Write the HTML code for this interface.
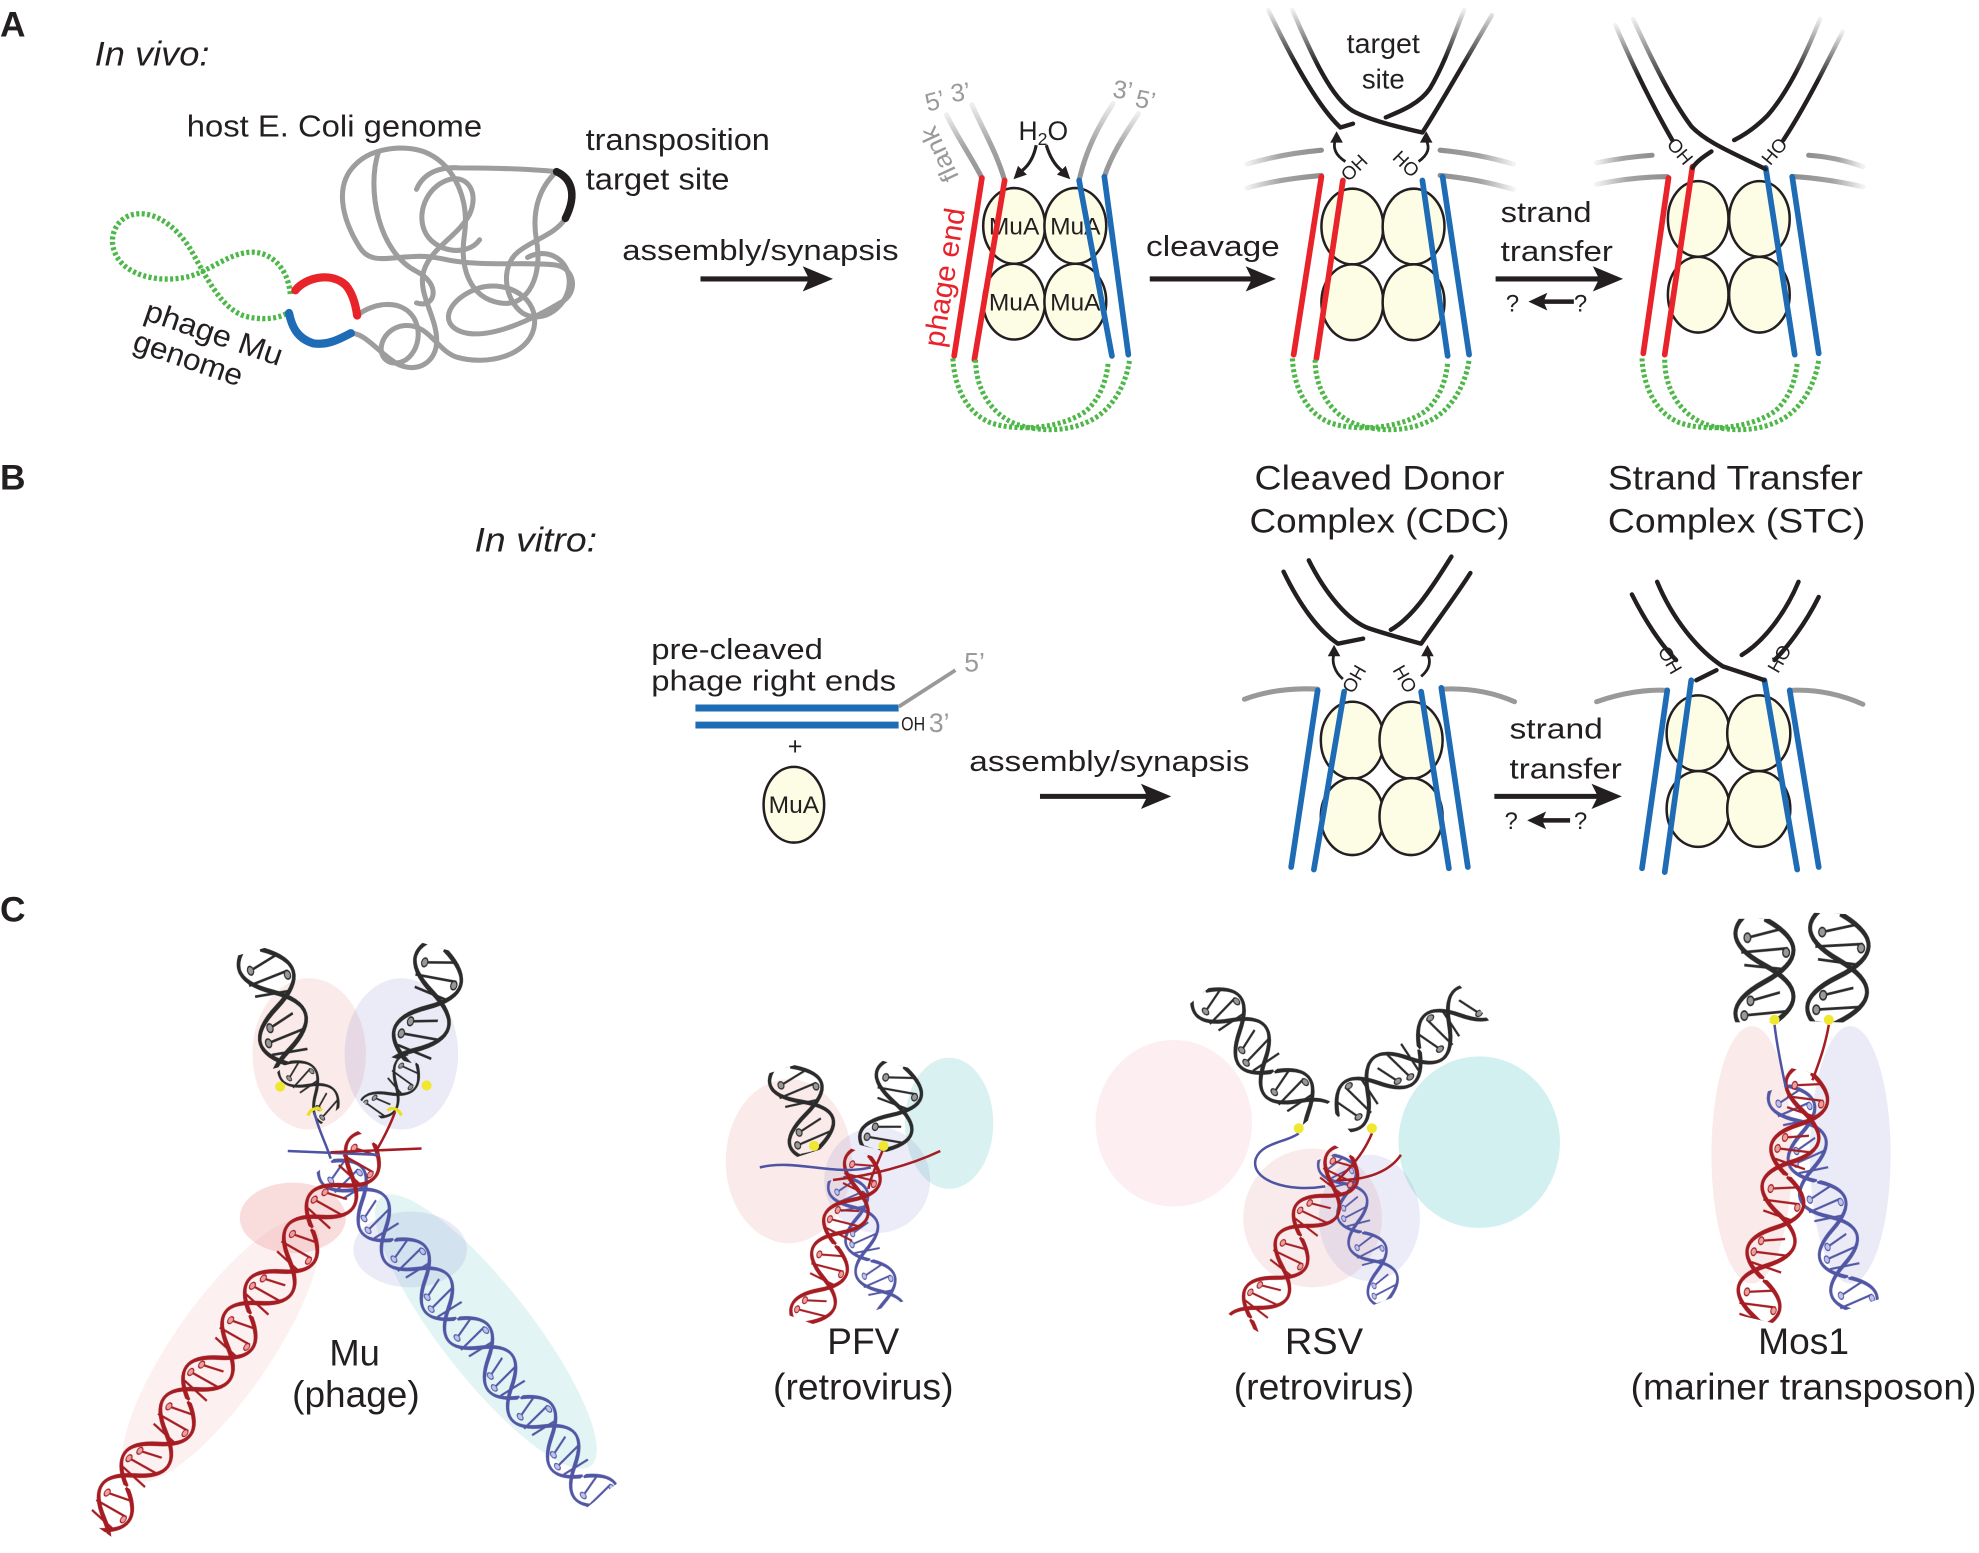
<!DOCTYPE html>
<html><head><meta charset="utf-8"><style>
html,body{margin:0;padding:0;background:#fff;}
svg{display:block;}
text{font-family:"Liberation Sans",Arial,sans-serif;fill:#231f20;}
</style></head><body>
<svg xmlns="http://www.w3.org/2000/svg" xmlns:xlink="http://www.w3.org/1999/xlink" width="1979" height="1553" viewBox="0 0 1568 1230.5" preserveAspectRatio="none">
<defs>
<linearGradient id="fadeK" x1="0" y1="0" x2="0" y2="1">
 <stop offset="0" stop-color="#f0f0f0"/><stop offset="0.22" stop-color="#8a8a8a"/><stop offset="0.45" stop-color="#231f20"/><stop offset="1" stop-color="#231f20"/>
</linearGradient>
<linearGradient id="fadeG" x1="0" y1="0" x2="0" y2="1">
 <stop offset="0" stop-color="#eeeeee"/><stop offset="0.5" stop-color="#a5a5a5"/><stop offset="1" stop-color="#939393"/>
</linearGradient>
<linearGradient id="fadeL" x1="0" y1="0" x2="1" y2="0">
 <stop offset="0" stop-color="#f2f2f2"/><stop offset="0.45" stop-color="#a3a3a3"/><stop offset="1" stop-color="#8f8f8f"/>
</linearGradient>
<linearGradient id="fadeR" x1="1" y1="0" x2="0" y2="0">
 <stop offset="0" stop-color="#f2f2f2"/><stop offset="0.45" stop-color="#a3a3a3"/><stop offset="1" stop-color="#8f8f8f"/>
</linearGradient>

<pattern id="hR" patternUnits="userSpaceOnUse" x="0" y="-22" width="60" height="44">
 <g fill="none" stroke="#a51d22">
  <path stroke-width="1.3" d="M5 12 L9 33 M14 7 L16 37 M24 9 L22 35 M35 12 L39 31 M44 8 L46 36 M54 9 L52 35"/>
  <path stroke-width="2.8" d="M0 22 C10 -3 20 -3 30 22 C40 47 50 47 60 22"/>
  <path stroke-width="2.8" d="M-38 22 C-28 -3 -18 -3 -8 22 C2 47 12 47 22 22 C32 -3 42 -3 52 22 C62 47 72 47 82 22"/>
 </g>
 <g fill="#eaa0a0" stroke="#a51d22" stroke-width="0.8"><circle cx="9" cy="33" r="2.2"/><circle cx="16" cy="8" r="2.2"/><circle cx="39" cy="31" r="2.2"/><circle cx="46" cy="35" r="2.2"/></g>
</pattern>
<pattern id="hB" patternUnits="userSpaceOnUse" x="0" y="-22" width="60" height="44">
 <g fill="none" stroke="#5257a5">
  <path stroke-width="1.3" d="M5 12 L9 33 M14 7 L16 37 M24 9 L22 35 M35 12 L39 31 M44 8 L46 36 M54 9 L52 35"/>
  <path stroke-width="2.6" d="M0 22 C10 -3 20 -3 30 22 C40 47 50 47 60 22"/>
  <path stroke-width="2.6" d="M-38 22 C-28 -3 -18 -3 -8 22 C2 47 12 47 22 22 C32 -3 42 -3 52 22 C62 47 72 47 82 22"/>
 </g>
 <g fill="#c0c2ec" stroke="#5257a5" stroke-width="0.8"><circle cx="9" cy="33" r="2.2"/><circle cx="16" cy="8" r="2.2"/><circle cx="39" cy="31" r="2.2"/><circle cx="46" cy="35" r="2.2"/></g>
</pattern>
<pattern id="hK" patternUnits="userSpaceOnUse" x="0" y="-22" width="60" height="44">
 <g fill="none" stroke="#2b2b2b">
  <path stroke-width="1.3" d="M5 12 L9 33 M14 7 L16 37 M24 9 L22 35 M35 12 L39 31 M44 8 L46 36 M54 9 L52 35"/>
  <path stroke-width="2.6" d="M0 22 C10 -3 20 -3 30 22 C40 47 50 47 60 22"/>
  <path stroke-width="2.6" d="M-38 22 C-28 -3 -18 -3 -8 22 C2 47 12 47 22 22 C32 -3 42 -3 52 22 C62 47 72 47 82 22"/>
 </g>
 <g fill="#999" stroke="#2b2b2b" stroke-width="0.8"><circle cx="9" cy="33" r="2.2"/><circle cx="16" cy="8" r="2.2"/><circle cx="39" cy="31" r="2.2"/><circle cx="46" cy="35" r="2.2"/></g>
</pattern>

<g id="gU" fill="none" stroke="#4db848" stroke-width="4" stroke-dasharray="2.4 1.9">
 <path d="M755 284 C756 305 765 327 785 335 C805 342 840 340 860 326 C872 316 877 300 878 287"/>
 <path d="M773 285 C773 308 785 328 805 336 C825 343 850 342 868 331 C885 320 893 300 895 285"/>
</g>
</defs>

<!-- ================= PANEL A ================= -->
<text x="0" y="29" font-size="28" font-weight="bold">A</text>
<text x="75" y="52" font-size="27" font-style="italic" textLength="91" lengthAdjust="spacingAndGlyphs">In vivo:</text>

<text x="148" y="108" font-size="24" textLength="234" lengthAdjust="spacingAndGlyphs">host E. Coli genome</text>
<text x="464" y="119" font-size="24" textLength="146" lengthAdjust="spacingAndGlyphs">transposition</text>
<text x="464" y="150" font-size="24" textLength="114" lengthAdjust="spacingAndGlyphs">target site</text>

<!-- tangle -->
<g fill="none" stroke="#9d9d9d" stroke-width="4" stroke-linecap="round" stroke-linejoin="round">
<path d="M283 250 C295 240 318 236 328 252 C338 270 324 292 309 287 C296 282 302 260 320 258 C340 256 346 278 362 283 C386 290 418 282 423 260 C428 236 402 222 380 228 C356 236 346 256 366 263 C388 270 424 252 447 238 C458 230 455 212 440 210 C418 207 380 212 350 205 C318 198 296 214 285 196 C270 172 265 146 282 130 C296 116 324 114 340 122 C360 132 372 158 368 186 C364 212 372 236 396 240 C420 244 430 216 425 190 C421 166 428 148 441 136"/>
<path d="M448 173 C440 186 422 190 410 200 C396 212 400 238 414 248 C430 258 452 242 451 222 C450 204 432 196 418 204"/>
<path d="M278 264 C290 264 300 280 316 289 C332 296 346 286 346 270 C346 250 330 232 336 214 C342 196 362 188 372 170 C380 152 370 139 357 142 C340 146 330 166 336 182 C343 200 370 204 380 190"/>
<path d="M330 150 C336 136 350 132 364 133 C390 133 420 134 441 136"/>
<path d="M300 120 C290 150 300 200 330 215 C350 225 345 245 330 240"/>
</g>
<path d="M441 136 C452 141 458 153 448 173" stroke="#231f20" stroke-width="6" fill="none" stroke-linecap="round"/>

<!-- phage genome -->
<path d="M230 233 C228 210 212 198 196 200 C180 202 165 215 150 219 C130 224 108 220 97 209 C84 196 88 177 102 171 C118 165 137 176 150 196 C163 218 175 246 196 251 C214 255 226 250 229 247" fill="none" stroke="#4db848" stroke-width="4.2" stroke-dasharray="2.4 1.9"/>
<path d="M234 230 C242 220 262 215 274 226 C280 233 282 243 283 250" fill="none" stroke="#e8232a" stroke-width="6.5" stroke-linecap="round"/>
<path d="M229 248 C231 258 235 268 248 272 C260 274 270 268 278 264" fill="none" stroke="#1e6cb5" stroke-width="6.5" stroke-linecap="round"/>
<text transform="translate(113 253) rotate(19)" font-size="24" textLength="114" lengthAdjust="spacingAndGlyphs">phage Mu</text>
<text transform="translate(104 277) rotate(19)" font-size="24" textLength="90" lengthAdjust="spacingAndGlyphs">genome</text>

<!-- arrow 1 -->
<text x="493" y="206" font-size="23" textLength="219" lengthAdjust="spacingAndGlyphs">assembly/synapsis</text>
<path d="M555 221 H642" stroke="#231f20" stroke-width="4"/>
<path d="M636 211 L660 221 L636 231 L641 221 Z" fill="#231f20"/>

<!-- complex 1 -->
<g fill="none" stroke-width="4" stroke-linecap="round">
 <path d="M750 91 C758 108 770 125 778 141" stroke="url(#fadeG)"/>
 <path d="M770 83 C780 105 790 122 796 143" stroke="url(#fadeG)"/>
 <path d="M882 82 C870 100 860 120 855 143" stroke="url(#fadeG)"/>
 <path d="M902 90 C890 108 880 124 875 140" stroke="url(#fadeG)"/>
</g>
<text x="733" y="87" font-size="20" transform="rotate(-15 740 80)" style="fill:#9a9a9a">5’</text>
<text x="753" y="80" font-size="20" style="fill:#9a9a9a" transform="rotate(-8 760 72)">3’</text>
<text x="882" y="78" font-size="20" style="fill:#9a9a9a" transform="rotate(8 889 70)">3’</text>
<text x="900" y="86" font-size="20" style="fill:#9a9a9a" transform="rotate(12 908 78)">5’</text>
<text transform="translate(750.4 119.5) rotate(-115)" text-anchor="middle" font-size="20" style="fill:#9a9a9a" textLength="46" lengthAdjust="spacingAndGlyphs">flank</text>

<g fill="#fdfde6" stroke="#231f20" stroke-width="2">
 <ellipse cx="803.5" cy="179" rx="24.5" ry="30"/>
 <ellipse cx="852" cy="179" rx="24.5" ry="30"/>
 <ellipse cx="803.5" cy="239" rx="24.5" ry="30"/>
 <ellipse cx="852" cy="239" rx="24.5" ry="30"/>
</g>
<g font-size="19" text-anchor="middle">
 <text x="803.5" y="186" textLength="40" lengthAdjust="spacingAndGlyphs">MuA</text>
 <text x="852" y="186" textLength="40" lengthAdjust="spacingAndGlyphs">MuA</text>
 <text x="803.5" y="246" textLength="40" lengthAdjust="spacingAndGlyphs">MuA</text>
 <text x="852" y="246" textLength="40" lengthAdjust="spacingAndGlyphs">MuA</text>
</g>
<g stroke-width="4.5" stroke-linecap="round">
 <path d="M778 141 L756 282" stroke="#e8232a"/>
 <path d="M796 143 L772 285" stroke="#e8232a"/>
 <path d="M855 143 L881 282" stroke="#1e6cb5"/>
 <path d="M875 140 L894 281" stroke="#1e6cb5"/>
</g>
<text transform="translate(756 221) rotate(-81)" text-anchor="middle" font-size="23" style="fill:#e8232a" textLength="111" lengthAdjust="spacingAndGlyphs">phage end</text>
<text x="807" y="111" font-size="21">H<tspan font-size="14" dy="4">2</tspan><tspan dy="-4">O</tspan></text>
<path d="M821 115 C819 125 815 131 810 135" fill="none" stroke="#231f20" stroke-width="2.5"/>
<path d="M803 142 L813.6 138.4 L806.6 131.4 Z" fill="#231f20"/>
<path d="M829 115 C832 125 836 131 841 135" fill="none" stroke="#231f20" stroke-width="2.5"/>
<path d="M848 142 L837.4 138.4 L844.4 131.4 Z" fill="#231f20"/>
<use href="#gU" xlink:href="#gU"/>

<!-- arrow cleavage -->
<text x="908" y="203" font-size="23" textLength="106" lengthAdjust="spacingAndGlyphs">cleavage</text>
<path d="M911 221 H993" stroke="#231f20" stroke-width="4"/>
<path d="M987 211 L1011 221 L987 231 L992 221 Z" fill="#231f20"/>

<!-- CDC A -->
<g fill="none" stroke-width="4" stroke-linecap="round">
 <path d="M988 130 C1005 125 1025 121 1047 119" stroke="url(#fadeL)"/>
 <path d="M988 149 C1005 144 1025 141 1047 139" stroke="url(#fadeL)"/>
 <path d="M1141 119 C1162 121 1182 125 1199 130" stroke="url(#fadeR)"/>
 <path d="M1141 139 C1162 141 1182 145 1199 150" stroke="url(#fadeR)"/>
</g>
<g fill="#fdfde6" stroke="#231f20" stroke-width="2">
 <ellipse cx="1071.5" cy="179.5" rx="24.5" ry="30"/>
 <ellipse cx="1120" cy="179.5" rx="24.5" ry="30"/>
 <ellipse cx="1071.5" cy="239.5" rx="24.5" ry="30"/>
 <ellipse cx="1120" cy="239.5" rx="24.5" ry="30"/>
</g>
<g stroke-width="4.5" stroke-linecap="round">
 <path d="M1047 140 L1025 281" stroke="#e8232a"/>
 <path d="M1064 143 L1043 284" stroke="#e8232a"/>
 <path d="M1127 143 L1147 282" stroke="#1e6cb5"/>
 <path d="M1143 140 L1164 281" stroke="#1e6cb5"/>
</g>
<g fill="none" stroke-width="3.5" stroke-linecap="round" stroke-linejoin="round">
 <path d="M1005 8 C1025 50 1045 85 1062 101 L1072 98" stroke="url(#fadeK)"/>
 <path d="M1098 93 C1110 88 1125 82 1133 70 C1145 50 1153 25 1160 8" stroke="url(#fadeK)"/>
 <path d="M1024 8 C1040 45 1055 78 1072 88 C1085 95 1105 100 1127 105 C1140 85 1160 50 1182 12" stroke="url(#fadeK)"/>
</g>
<text x="1067" y="42" font-size="22" textLength="58" lengthAdjust="spacingAndGlyphs">target</text>
<text x="1079" y="70" font-size="22" textLength="34" lengthAdjust="spacingAndGlyphs">site</text>
<path d="M1066 128 C1058 123 1056 117 1058 111" fill="none" stroke="#231f20" stroke-width="2.2"/>
<path d="M1059 104 L1054 113 L1064 113 Z" fill="#231f20"/>
<path d="M1124 128 C1132 122 1133 117 1130 111" fill="none" stroke="#231f20" stroke-width="2.2"/>
<path d="M1130 104 L1125 113 L1135 113 Z" fill="#231f20"/>
<text transform="translate(1073 133) rotate(-45)" text-anchor="middle" dy="5" font-size="15">OH</text>
<text transform="translate(1114 130) rotate(45)" text-anchor="middle" dy="5" font-size="15">HO</text>
<use href="#gU" xlink:href="#gU" transform="translate(269 0)"/>

<!-- arrow strand transfer A -->
<text x="1189" y="176" font-size="23" textLength="72" lengthAdjust="spacingAndGlyphs">strand</text>
<text x="1189" y="207" font-size="23" textLength="89" lengthAdjust="spacingAndGlyphs">transfer</text>
<path d="M1185 221 H1268" stroke="#231f20" stroke-width="4"/>
<path d="M1262 211 L1286 221 L1262 231 L1267 221 Z" fill="#231f20"/>
<text x="1193" y="247" font-size="19">?</text>
<text x="1247" y="247" font-size="19">?</text>
<path d="M1247 239 H1222" stroke="#231f20" stroke-width="3.5"/>
<path d="M1226 232 L1211 239 L1226 246 L1223 239 Z" fill="#231f20"/>

<!-- STC A -->
<g fill="none" stroke-width="4" stroke-linecap="round">
 <path d="M1265 129 C1280 126 1295 124 1309 123" stroke="url(#fadeL)"/>
 <path d="M1265 146 C1285 142 1303 140 1321 140" stroke="url(#fadeL)"/>
 <path d="M1433 123 C1448 124 1462 127 1476 132" stroke="url(#fadeR)"/>
 <path d="M1422 140 C1440 141 1458 144 1476 148" stroke="url(#fadeR)"/>
</g>
<g fill="#fdfde6" stroke="#231f20" stroke-width="2">
 <ellipse cx="1345.5" cy="173.5" rx="24" ry="30"/>
 <ellipse cx="1394" cy="173.5" rx="24" ry="30"/>
 <ellipse cx="1345.5" cy="233.5" rx="24" ry="30"/>
 <ellipse cx="1394" cy="233.5" rx="24" ry="30"/>
</g>
<g stroke-width="4.5" stroke-linecap="round">
 <path d="M1322 141 L1302 280" stroke="#e8232a"/>
 <path d="M1341 132 L1319 281" stroke="#e8232a"/>
 <path d="M1399 133 L1422 281" stroke="#1e6cb5"/>
 <path d="M1420 140 L1441 280" stroke="#1e6cb5"/>
</g>
<g fill="none" stroke-width="3.5" stroke-linecap="round" stroke-linejoin="round">
 <path d="M1280 20 C1295 55 1310 85 1325 111" stroke="url(#fadeK)"/>
 <path d="M1460 25 C1445 55 1430 85 1413 111" stroke="url(#fadeK)"/>
 <path d="M1442 15 C1428 50 1415 75 1400 92 C1390 102 1382 107 1374 111" stroke="url(#fadeK)"/>
 <path d="M1356 120 C1350 124 1344 128 1341 133" stroke="#231f20"/>
 <path d="M1294 15 C1310 50 1325 80 1340 100 C1352 113 1375 122 1399 134" stroke="url(#fadeK)"/>
</g>
<text transform="translate(1331 120) rotate(50)" text-anchor="middle" dy="5" font-size="15">OH</text>
<text transform="translate(1406 120) rotate(-50)" text-anchor="middle" dy="5" font-size="15">HO</text>
<use href="#gU" xlink:href="#gU" transform="translate(546 0)"/>

<!-- ================= PANEL B ================= -->
<text x="0" y="388" font-size="28" font-weight="bold">B</text>
<text x="376" y="437" font-size="27" font-style="italic" textLength="97" lengthAdjust="spacingAndGlyphs">In vitro:</text>
<text x="994" y="388" font-size="27.5" textLength="198" lengthAdjust="spacingAndGlyphs">Cleaved Donor</text>
<text x="990" y="422" font-size="27.5" textLength="206" lengthAdjust="spacingAndGlyphs">Complex (CDC)</text>
<text x="1274" y="388" font-size="27.5" textLength="202" lengthAdjust="spacingAndGlyphs">Strand Transfer</text>
<text x="1274" y="422" font-size="27.5" textLength="204" lengthAdjust="spacingAndGlyphs">Complex (STC)</text>

<text x="516" y="522" font-size="23" textLength="136" lengthAdjust="spacingAndGlyphs">pre-cleaved</text>
<text x="516" y="547" font-size="23" textLength="194" lengthAdjust="spacingAndGlyphs">phage right ends</text>
<line x1="551" y1="561" x2="712" y2="561" stroke="#1e6cb5" stroke-width="5.5"/>
<line x1="551" y1="574.5" x2="712" y2="574.5" stroke="#1e6cb5" stroke-width="5.5"/>
<path d="M712 560 L757 531" stroke="#999" stroke-width="3" fill="none"/>
<text x="764" y="532" font-size="21" style="fill:#9a9a9a">5’</text>
<text x="714" y="579" font-size="15" textLength="19" lengthAdjust="spacingAndGlyphs">OH</text>
<text x="736" y="580" font-size="21" style="fill:#9a9a9a">3’</text>
<text x="630" y="598" font-size="20" text-anchor="middle">+</text>
<ellipse cx="629" cy="637.6" rx="24" ry="30" fill="#fdfde6" stroke="#231f20" stroke-width="2"/>
<text x="629" y="644" font-size="19" text-anchor="middle" textLength="40" lengthAdjust="spacingAndGlyphs">MuA</text>

<text x="768" y="611" font-size="23" textLength="222" lengthAdjust="spacingAndGlyphs">assembly/synapsis</text>
<path d="M824 631 H910" stroke="#231f20" stroke-width="4"/>
<path d="M904 621 L928 631 L904 641 L909 631 Z" fill="#231f20"/>

<!-- CDC B -->
<g fill="none" stroke="#999" stroke-width="4" stroke-linecap="round">
 <path d="M986 554 C1005 547 1025 545 1044 546"/>
 <path d="M1142 546 C1162 545 1182 548 1200 556"/>
</g>
<g fill="#fdfde6" stroke="#231f20" stroke-width="2">
 <ellipse cx="1071.5" cy="586.5" rx="25" ry="30.5"/>
 <ellipse cx="1118" cy="586.5" rx="25" ry="30.5"/>
 <ellipse cx="1071.5" cy="647" rx="25" ry="30.5"/>
 <ellipse cx="1118" cy="647" rx="25" ry="30.5"/>
</g>
<g stroke="#1e6cb5" stroke-width="4.5" stroke-linecap="round">
 <path d="M1044 547 L1023 687"/>
 <path d="M1065 548 L1041 689"/>
 <path d="M1126 548 L1148 688"/>
 <path d="M1142 545 L1163 687"/>
</g>
<g fill="none" stroke="#231f20" stroke-width="3.5" stroke-linecap="round" stroke-linejoin="round">
 <path d="M1017 453 C1030 480 1045 500 1060 510 L1080 506"/>
 <path d="M1102 499 C1118 490 1132 470 1150 441"/>
 <path d="M1037 444 C1050 470 1068 492 1085 498 C1100 503 1115 507 1126 510 C1140 490 1155 470 1165 454"/>
</g>
<path d="M1064 538 C1057 532 1055 524 1057 518" fill="none" stroke="#231f20" stroke-width="2.2"/>
<path d="M1057 511 L1052 520 L1062 520 Z" fill="#231f20"/>
<path d="M1126 536 C1133 530 1134 524 1131 518" fill="none" stroke="#231f20" stroke-width="2.2"/>
<path d="M1131 511 L1126 520 L1136 520 Z" fill="#231f20"/>
<text transform="translate(1073 538) rotate(-60)" text-anchor="middle" dy="5" font-size="15">OH</text>
<text transform="translate(1113 538) rotate(60)" text-anchor="middle" dy="5" font-size="15">HO</text>

<!-- arrow strand transfer B -->
<text x="1196" y="585" font-size="23" textLength="74" lengthAdjust="spacingAndGlyphs">strand</text>
<text x="1196" y="617" font-size="23" textLength="89" lengthAdjust="spacingAndGlyphs">transfer</text>
<path d="M1184 631 H1267" stroke="#231f20" stroke-width="4"/>
<path d="M1261 621 L1285 631 L1261 641 L1266 631 Z" fill="#231f20"/>
<text x="1192" y="657" font-size="19">?</text>
<text x="1247" y="657" font-size="19">?</text>
<path d="M1244 650 H1221" stroke="#231f20" stroke-width="3.5"/>
<path d="M1225 643 L1210 650 L1225 657 L1222 650 Z" fill="#231f20"/>

<!-- STC B -->
<g fill="none" stroke="#999" stroke-width="4" stroke-linecap="round">
 <path d="M1265 556 C1285 549 1305 546 1321 547"/>
 <path d="M1418 547 C1438 546 1458 550 1476 558"/>
</g>
<g fill="#fdfde6" stroke="#231f20" stroke-width="2">
 <ellipse cx="1345.5" cy="581" rx="25" ry="30"/>
 <ellipse cx="1393.5" cy="581" rx="25" ry="30"/>
 <ellipse cx="1345.5" cy="641" rx="25" ry="30"/>
 <ellipse cx="1393.5" cy="641" rx="25" ry="30"/>
</g>
<g stroke="#1e6cb5" stroke-width="4.5" stroke-linecap="round">
 <path d="M1321 547 L1301 688"/>
 <path d="M1340 539 L1319 691"/>
 <path d="M1398 539 L1424 689"/>
 <path d="M1418 547 L1441 687"/>
</g>
<g fill="none" stroke="#231f20" stroke-width="3.5" stroke-linecap="round" stroke-linejoin="round">
 <path d="M1293 471 C1305 495 1318 513 1328 523"/>
 <path d="M1441 473 C1430 495 1416 513 1406 523"/>
 <path d="M1425 461 C1415 485 1398 508 1380 519"/>
 <path d="M1360 531 L1344 539"/>
 <path d="M1313 461 C1325 490 1345 515 1365 528 C1380 533 1390 536 1398 539"/>
</g>
<text transform="translate(1323 523) rotate(60)" text-anchor="middle" dy="5" font-size="15">OH</text>
<text transform="translate(1410 522) rotate(-60)" text-anchor="middle" dy="5" font-size="15">HO</text>

<!-- ================= PANEL C ================= -->
<text x="0" y="730" font-size="28" font-weight="bold">C</text>

<!-- protein blobs -->
<g>
 <!-- Mu -->
 <ellipse cx="245" cy="835" rx="45" ry="60" fill="#e88a8a" opacity="0.18"/>
 <ellipse cx="318" cy="835" rx="45" ry="60" fill="#8a8ed0" opacity="0.18"/>
 <ellipse cx="232" cy="965" rx="42" ry="28" fill="#e05555" opacity="0.2"/>
 <ellipse cx="175" cy="1070" rx="125" ry="38" fill="#f0a8a8" opacity="0.17" transform="rotate(-55 175 1070)"/>
 <ellipse cx="385" cy="1055" rx="135" ry="36" fill="#70c8c8" opacity="0.2" transform="rotate(52 385 1055)"/>
 <ellipse cx="325" cy="990" rx="45" ry="30" fill="#8a8ed0" opacity="0.18"/>
 <!-- PFV -->
 <ellipse cx="625" cy="920" rx="50" ry="65" fill="#e88a8a" opacity="0.18"/>
 <ellipse cx="752" cy="890" rx="35" ry="52" fill="#70c8c8" opacity="0.26"/>
 <ellipse cx="695" cy="935" rx="42" ry="42" fill="#8a8ed0" opacity="0.17"/>
 <!-- RSV -->
 <ellipse cx="930" cy="890" rx="62" ry="66" fill="#f0b0c0" opacity="0.22"/>
 <ellipse cx="1172" cy="905" rx="64" ry="68" fill="#60c8c8" opacity="0.28"/>
 <ellipse cx="1040" cy="965" rx="55" ry="55" fill="#e09090" opacity="0.18"/>
 <ellipse cx="1085" cy="965" rx="40" ry="50" fill="#8a8ed0" opacity="0.17"/>
 <!-- Mos1 -->
 <ellipse cx="1388" cy="915" rx="32" ry="102" fill="#e88a8a" opacity="0.18"/>
 <ellipse cx="1466" cy="915" rx="32" ry="102" fill="#8a8ed0" opacity="0.18"/>
</g>

<!-- Mu helices -->
<g transform="translate(206 752) rotate(73.9) scale(1.6 1.09)"><rect x="0" y="-22" width="58.75" height="44" fill="url(#hK)"/></g>
<g transform="translate(352 752) rotate(106.1) scale(1.6 1.09)"><rect x="0" y="-22" width="58.75" height="44" fill="url(#hK)"/></g>
<g transform="translate(228 842) rotate(48) scale(1.1 0.68)"><rect x="0" y="-22" width="49" height="44" fill="url(#hK)"/></g>
<g transform="translate(330 842) rotate(132) scale(1.1 0.68)"><rect x="0" y="-22" width="47" height="44" fill="url(#hK)"/></g>
<g transform="translate(262 920) rotate(51.3) scale(1.333 0.864)"><rect x="0" y="-22" width="256" height="44" fill="url(#hB)"/></g>
<g transform="translate(296 905) rotate(125.6) scale(1.4 0.909)"><rect x="0" y="-22" width="268" height="44" fill="url(#hR)"/></g>
<g fill="none" stroke-width="2">
 <path d="M249 881 C252 895 258 905 262 918" stroke="#4e54a3"/>
 <path d="M313 881 C308 895 302 905 298 912" stroke="#a51d22"/>
 <path d="M228 912 L300 915" stroke="#4e54a3"/>
 <path d="M262 913 L334 910" stroke="#a51d22"/>
 <path d="M244 884 C246 878 252 877 255 880" stroke="#e8e020" stroke-width="2.5"/>
 <path d="M318 884 C316 878 310 877 307 880" stroke="#e8e020" stroke-width="2.5"/>
</g>
<circle cx="222" cy="861" r="4" fill="#f0e830"/>
<circle cx="338" cy="860" r="4" fill="#f0e830"/>

<!-- PFV helices -->
<g transform="translate(626 845) rotate(72) scale(1.333 1.045)"><rect x="0" y="-22" width="52.5" height="44" fill="url(#hK)"/></g>
<g transform="translate(716 845) rotate(105) scale(1.333 1.045)"><rect x="0" y="-22" width="51.8" height="44" fill="url(#hK)"/></g>
<g transform="translate(668 932) rotate(72) scale(1.167 0.773)"><rect x="0" y="-22" width="93.4" height="44" fill="url(#hB)"/></g>
<g transform="translate(688 915) rotate(110) scale(1.267 0.864)"><rect x="0" y="-22" width="111.3" height="44" fill="url(#hR)"/></g>
<g fill="none" stroke-width="2">
 <path d="M602 925 C630 918 660 932 690 925" stroke="#4e54a3"/>
 <path d="M660 935 C700 930 728 920 745 912" stroke="#a51d22"/>
 <path d="M700 910 C695 922 690 932 688 942" stroke="#a51d22"/>
</g>
<circle cx="645" cy="908" r="4" fill="#f0e830"/>
<circle cx="700" cy="908" r="4" fill="#f0e830"/>

<!-- RSV helices -->
<g transform="translate(955 785) rotate(49.6) scale(1.4 0.955)"><rect x="0" y="-22" width="93.6" height="44" fill="url(#hK)"/></g>
<g transform="translate(1060 885) rotate(-39.8) scale(1.4 0.955)"><rect x="0" y="-22" width="100.7" height="44" fill="url(#hK)"/></g>
<g transform="translate(1055 915) rotate(68.6) scale(1.1 0.727)"><rect x="0" y="-22" width="111.8" height="44" fill="url(#hB)"/></g>
<g transform="translate(1070 915) rotate(121.3) scale(1.267 0.864)"><rect x="0" y="-22" width="124.7" height="44" fill="url(#hR)"/></g>
<g fill="none" stroke-width="2">
 <path d="M1029 898 C1020 905 1000 905 995 918 C990 935 1020 945 1050 940" stroke="#4e54a3"/>
 <path d="M1087 898 C1080 915 1070 925 1060 935 C1080 935 1100 930 1110 915" stroke="#a51d22"/>
</g>
<circle cx="1029" cy="894" r="4" fill="#f0e830"/>
<circle cx="1087" cy="894" r="4" fill="#f0e830"/>

<!-- Mos1 helices -->
<g transform="translate(1398 728) rotate(90) scale(1.667 1.227)"><rect x="0" y="-22" width="49.2" height="44" fill="url(#hK)"/></g>
<g transform="translate(1458 724) rotate(92) scale(1.667 1.25)"><rect x="0" y="-22" width="51.6" height="44" fill="url(#hK)"/></g>
<g transform="translate(1415 860) rotate(72) scale(1.333 0.909)"><rect x="0" y="-22" width="138" height="44" fill="url(#hB)"/></g>
<g transform="translate(1435 850) rotate(103) scale(1.4 0.955)"><rect x="0" y="-22" width="142.9" height="44" fill="url(#hR)"/></g>
<g fill="none" stroke-width="2">
 <path d="M1449 812 C1446 830 1440 845 1436 856" stroke="#a51d22"/>
 <path d="M1406 812 C1408 830 1412 848 1415 862" stroke="#4e54a3"/>
</g>
<circle cx="1406" cy="808" r="4" fill="#f0e830"/>
<circle cx="1449" cy="808" r="4" fill="#f0e830"/>

<!-- panel C labels -->
<g font-size="29" text-anchor="middle">
 <text x="281" y="1082" textLength="40" lengthAdjust="spacingAndGlyphs">Mu</text>
 <text x="282" y="1115" textLength="101" lengthAdjust="spacingAndGlyphs">(phage)</text>
 <text x="684" y="1073" textLength="57" lengthAdjust="spacingAndGlyphs">PFV</text>
 <text x="684" y="1109" textLength="143" lengthAdjust="spacingAndGlyphs">(retrovirus)</text>
 <text x="1049" y="1073" textLength="62" lengthAdjust="spacingAndGlyphs">RSV</text>
 <text x="1049" y="1109" textLength="143" lengthAdjust="spacingAndGlyphs">(retrovirus)</text>
 <text x="1429" y="1073" textLength="72" lengthAdjust="spacingAndGlyphs">Mos1</text>
 <text x="1429" y="1109" textLength="274" lengthAdjust="spacingAndGlyphs">(mariner transposon)</text>
</g>
</svg>
</body></html>
